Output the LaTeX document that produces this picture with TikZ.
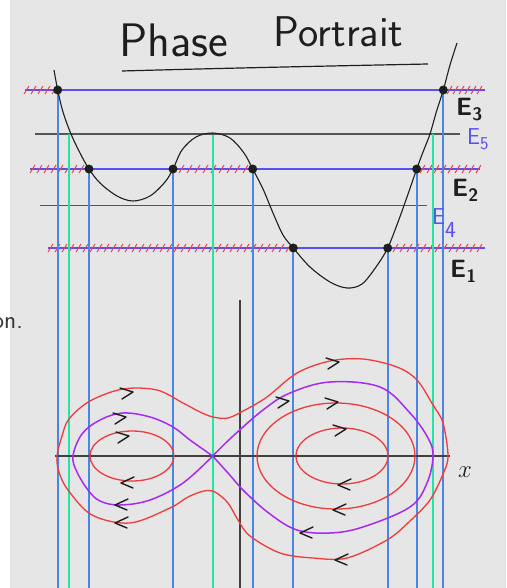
\documentclass[tikz,border=0pt]{standalone}
\usepackage{fontspec}
\usetikzlibrary{calc}
\definecolor{paper}{HTML}{E6E6E6}
\definecolor{lvlblue}{HTML}{5A4FF3}
\definecolor{dropblue}{HTML}{4A86E8}
\definecolor{sepgreen}{HTML}{22E6A4}
\definecolor{orbitred}{HTML}{EE3B3B}
\definecolor{hatchred}{HTML}{F2404E}
\definecolor{sepviolet}{HTML}{A52BF0}
\definecolor{ink}{HTML}{1E1E1E}
\definecolor{lvlgray}{HTML}{555555}
\tikzset{
  eline/.style={line width=1.6pt, color=lvlblue},
  gline/.style={line width=1.4pt, color=lvlgray},
  hatch/.style={line width=1pt, color=hatchred},
  drop/.style={line width=2.2pt, color=dropblue},
  sepdrop/.style={line width=2.2pt, color=sepgreen},
  pot/.style={line width=1.1pt, color=ink},
  turn/.style={circle, fill=ink, inner sep=0pt, minimum size=9pt},
  % phase plane
  axis/.style={line width=1.3pt, color=ink!85},
  orbit/.style={line width=1.3pt, color=orbitred},
  sepx/.style={line width=1.5pt, color=sepviolet},
  chev/.style={line width=1.4pt, color=ink, line cap=round, line join=round},
  % texts
  title/.style={font=\sffamily\fontsize{47}{54}\selectfont, text=ink, inner sep=0pt},
  elab/.style={font=\sffamily\bfseries\fontsize{25}{28}\selectfont, text=ink, inner sep=0pt},
  blab/.style={font=\sffamily\fontsize{23}{26}\selectfont, text=lvlblue, inner sep=0pt},
  side/.style={font=\sffamily\fontsize{25}{28}\selectfont, text=ink!90, inner sep=0pt},
}
\newcommand{\sub}[1]{\raisebox{-5pt}{\fontsize{18}{18}\selectfont #1}}
\begin{document}
\begin{tikzpicture}[x=1pt,y=-1pt]
  \useasboundingbox (0,0) rectangle (506,588);
  \fill[white] (0,0) rectangle (10,588);
  \fill[paper] (10,0) rectangle (506,588);
  \coordinate (bot) at (0,588);

  % heading
  \node[title, anchor=base west] (title) at (119,57)
    {Phase\hspace{46pt}\raisebox{10pt}{\fontsize{43}{50}\selectfont Portrait}};
  \draw[ink, line width=1.2pt] (122,71) .. controls (230,68) and (330,66) .. (428,64);
  \node[side, anchor=base east] (cut) at (23,328) {on.};

  % energy levels
  \draw[gline] (35,134) -- (460,134);
  \draw[gline] (40,205.7) -- (427,205.7);
  \draw[eline] (25,90) -- (485,90);
  \draw[eline] (30,169) -- (480,169);
  \draw[eline] (48,248) -- (485,248);
  % forbidden parts
  \foreach \x in {26,33,...,54} \draw[hatch] (\x-2,94) -- (\x+3,86);
  \foreach \x in {449,455,...,484} \draw[hatch] (\x-2,94) -- (\x+3,86);
  \foreach \x in {32,39,...,84} \draw[hatch] (\x-2,173) -- (\x+3,165);
  \foreach \x in {181,189,...,248} \draw[hatch] (\x-2,173) -- (\x+3,165);
  \foreach \x in {422,429,...,478} \draw[hatch] (\x-2,173) -- (\x+3,165);
  \foreach \x in {50,57,...,288} \draw[hatch] (\x-2,252) -- (\x+3,244);
  \foreach \x in {395,402,...,484} \draw[hatch] (\x-2,252) -- (\x+3,244);

  % turning points
  \coordinate (t1) at (57.7,90);
  \coordinate (t2) at (443.3,90);
  \coordinate (t3) at (89,169);
  \coordinate (t4) at (173,169);
  \coordinate (t5) at (252.7,169);
  \coordinate (t6) at (416.7,169);
  \coordinate (t7) at (293.3,248);
  \coordinate (t8) at (387.7,248);
  \coordinate (g1) at (69.3,134);
  \coordinate (g2) at (212.7,135);
  \coordinate (g3) at (432.7,134);
  \foreach \t in {t1,t2,t3,t4,t5,t6,t7,t8}
    \draw[drop] (\t) -- (\t |- bot);
  \foreach \g in {g1,g2,g3}
    \draw[sepdrop] (\g) -- (\g |- bot);

  % potential
  \draw[pot] plot[smooth, tension=0.55] coordinates {
    (54,70) (57.7,90) (63,112) (71,134) (80,153) (89,169) (100,183) (117,196)
    (133,201) (150,196) (165,182) (173,169) (182,150) (196,137) (212.7,133)
    (230,138) (244,153) (252.7,169) (263,189) (273,213) (283,235) (293.3,248)
    (310,267) (330,282) (347,288) (362,284) (376,267) (387.7,248) (398,222)
    (407,197) (416.7,169) (423,152) (430,134) (436,113) (443.3,90) (450,65) (457,43)};
  \foreach \t in {t1,t2,t3,t4,t5,t6,t7,t8}
    \node[turn] (d\t) at (\t) {};

  % phase plane
  \draw[axis] (240,300) -- (240,588);
  \draw[axis] (55,456) -- (450,456);
  \draw[orbit] (132,456) ellipse[x radius=42, y radius=25];
  \draw[orbit] (342,456) ellipse[x radius=46, y radius=28];
  \draw[orbit] (336,456) ellipse[x radius=79, y radius=53];
  \draw[sepx] plot[smooth, tension=0.6] coordinates {
    (212.7,456) (190,440) (173,427) (150,417) (123,413) (100,420) (82,434)
    (73,456) (77,472) (88,490) (100,501) (120,505) (150,500) (183,483) (212.7,456)};
  \draw[sepx] plot[smooth, tension=0.6] coordinates {
    (212.7,456) (232,437) (263,410) (290,393) (330,382) (380,387) (410,413)
    (428,438) (433,456) (427,483) (410,507) (363,527) (330,533) (297,530)
    (270,514) (245,492) (228,473) (212.7,456)};
  \draw[orbit] plot[smooth cycle, tension=0.55] coordinates {
    (57,456) (62,436) (69,419) (90,401) (123,389) (157,390) (183,403) (200,412)
    (213,417) (228,418) (245,410) (267,397) (297,373) (330,361) (363,359)
    (397,367) (417,380) (433,405) (443,423) (448,456) (443,474) (430,500)
    (410,521) (387,540) (347,558) (313,558) (280,553) (250,536) (238,520)
    (228,503) (215,492) (204,491) (188,497) (170,508) (130,523) (92,515)
    (68,490) (59,472)};
  % directions
  \foreach \cx/\cy in {127/393,120/418,123/437,333/363,283/402,332/403,340/430}
    \draw[chev] (\cx,\cy) ++(-7,-5) -- ++(13,4) -- ++(-11,7);
  \foreach \cx/\cy in {128/483,122/505,122/523,345/485,340/510,307/533,342/560}
    \draw[chev] (\cx,\cy) ++(6,-6) -- ++(-13,6) -- ++(12,5);
  \node[font=\fontsize{30}{32}\selectfont, text=ink, inner sep=0pt, anchor=base west] (xlab) at (458,477) {$x$};

  % level names
  \node[elab, anchor=base west] (E3) at (456,116) {E\sub{3}};
  \node[blab, anchor=base west] (E5) at (467,145) {E\sub{5}};
  \node[elab, anchor=base west] (E2) at (452,196) {E\sub{2}};
  \node[blab, anchor=base west] (E4) at (432,224) {E\raisebox{-13pt}{4}};
  \node[elab, anchor=base west] (E1) at (450,277) {E\sub{1}};
\end{tikzpicture}
\end{document}
